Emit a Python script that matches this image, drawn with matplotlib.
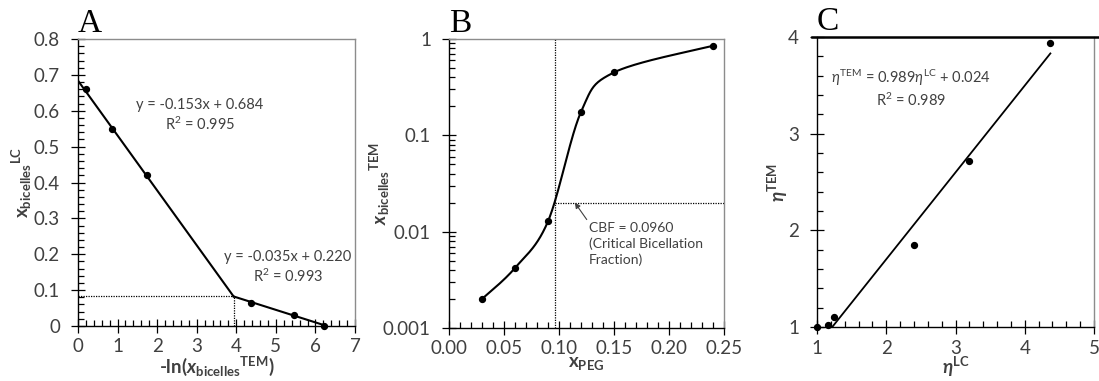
import numpy as np
import matplotlib
matplotlib.use("Agg")
import matplotlib.pyplot as plt
from matplotlib.ticker import MultipleLocator, LogLocator, NullFormatter, FixedLocator

plt.rcParams['font.family'] = ['Lato', 'DejaVu Sans']
plt.rcParams['mathtext.fontset'] = 'custom'
plt.rcParams['mathtext.rm'] = 'Lato'
plt.rcParams['mathtext.it'] = 'Lato:italic'
plt.rcParams['mathtext.bf'] = 'Lato:bold'
plt.rcParams['mathtext.bfit'] = 'Lato:bold:italic'

TXT = '#404040'
SPINE = '#8c8c8c'

# panel A: x_bicelles^LC vs -ln(x_bicelles^TEM)
a_x = [0.2, 0.85, 1.75, 4.38, 5.47, 6.22]
a_y = [0.66, 0.548, 0.42, 0.065, 0.03, 0.0]
a_fit1 = (-0.153, 0.684)
a_fit2 = (-0.035, 0.220)
a_fit2_end = 6.2

# panel B: x_bicelles^TEM vs x_PEG
b_x = [0.03, 0.06, 0.09, 0.12, 0.15, 0.24]
b_y = [0.002, 0.0042, 0.0128, 0.175, 0.45, 0.85]
b_cbf = 0.096
b_level = 0.02

# panel C: eta^TEM vs eta^LC
c_x = [1.0, 1.16, 1.25, 2.4, 3.19, 4.37]
c_y = [1.0, 1.02, 1.1, 1.85, 2.72, 3.94]
c_fit_x = [1.22, 4.37]
c_fit_y = [1.0, 3.83]


def style_axes(ax):
    for s in ax.spines.values():
        s.set_color(SPINE)
        s.set_linewidth(1.0)
    ax.spines['left'].set_color('black')
    ax.spines['bottom'].set_color('black')
    ax.tick_params(which='minor', direction='in', length=4, width=0.9,
                   colors='black')
    ax.tick_params(which='major', direction='inout', length=10, width=0.9,
                   colors='black', labelcolor=TXT, labelsize=13.5)
    ax.tick_params(axis='y', which='major', pad=8)
    ax.tick_params(axis='x', which='major', pad=4)


def set_labels(ax, xl, yl, xpos, ypos, size=13.5):
    # x label hangs from xpos, y label's right edge sits at ypos
    ax.set_xlabel(xl, fontsize=size, color=TXT)
    ax.set_ylabel(yl, fontsize=size, color=TXT)
    ax.xaxis.set_label_coords(0.5, xpos)
    ax.yaxis.set_label_coords(ypos, 0.5)


def catmull(px, py, n=40):
    # smooth line through the points, like a spreadsheet "smoothed line"
    P = np.column_stack([px, py])
    P = np.vstack([P[0], P, P[-1]])
    out = []
    for i in range(1, len(P) - 2):
        p0, p1, p2, p3 = P[i - 1], P[i], P[i + 1], P[i + 2]
        t = np.linspace(0, 1, n)[:, None]
        seg = 0.5 * ((2 * p1) + (-p0 + p2) * t + (2 * p0 - 5 * p1 + 4 * p2 - p3) * t ** 2
                     + (-p0 + 3 * p1 - 3 * p2 + p3) * t ** 3)
        out.append(seg)
    out = np.vstack(out)
    return out[:, 0], out[:, 1]


fig = plt.figure(figsize=(10.99, 3.81), dpi=100)
W, H = 1099, 381

def add_axes(l, t, r, b):
    return fig.add_axes([l / W, 1 - b / H, (r - l) / W, (b - t) / H])

def letter(ax, s):
    ax.text(0.0, 1.0, s, transform=ax.transAxes, fontsize=24, family='Liberation Serif',
            ha='left', va='bottom')

# ---------- A ----------
ax = add_axes(78, 39, 355, 326)
style_axes(ax)
ax.set_xlim(0, 7)
ax.set_ylim(0, 0.8)
ax.xaxis.set_major_locator(MultipleLocator(1))
ax.xaxis.set_minor_locator(MultipleLocator(0.2))
ax.yaxis.set_major_locator(MultipleLocator(0.1))
ax.yaxis.set_minor_locator(MultipleLocator(0.02))
ax.yaxis.set_major_formatter(matplotlib.ticker.FuncFormatter(lambda v, p: '0' if abs(v) < 1e-9 else '%g' % v))
xb = (a_fit2[1] - a_fit1[1]) / (a_fit1[0] - a_fit2[0])
yb = a_fit1[0] * xb + a_fit1[1]
xs1 = np.array([0, xb])
xs2 = np.array([xb, a_fit2_end])
ax.plot(xs1, a_fit1[0] * xs1 + a_fit1[1], color='black', lw=1.5)
ax.plot(xs2, a_fit2[0] * xs2 + a_fit2[1], color='black', lw=1.5)
ax.plot([0, xb], [yb, yb], color='black', lw=0.9, ls=(0, (1, 1)))
ax.plot([xb, xb], [0, yb], color='black', lw=0.9, ls=(0, (1, 1)))
ax.scatter(a_x, a_y, s=18, color='black', zorder=5, clip_on=False)
ax.text(3.08, 0.587, 'y = -0.153x + 0.684\nR$^2$ = 0.995', ha='center', va='center',
        fontsize=10.5, color=TXT, linespacing=1.3)
ax.text(5.31, 0.163, 'y = -0.035x + 0.220\nR$^2$ = 0.993', ha='center', va='center',
        fontsize=10.5, color=TXT, linespacing=1.3)
set_labels(ax, '-ln(' + r'$\mathbfit{x}_{\mathbf{bicelles}}{}^{\mathbf{TEM}}$' + ')',
           r'$\mathbf{x}_{\mathbf{bicelles}}{}^{\mathbf{LC}}$', -0.101, -0.159)
ax.xaxis.label.set_fontweight('bold')
letter(ax, 'A')

# ---------- B ----------
ax = add_axes(449, 39, 724, 328)
style_axes(ax)
ax.set_xlim(0, 0.25)
ax.set_yscale('log')
ax.set_ylim(0.001, 1)
ax.xaxis.set_major_locator(MultipleLocator(0.05))
ax.xaxis.set_minor_locator(MultipleLocator(0.01))
ax.xaxis.set_major_formatter(matplotlib.ticker.FormatStrFormatter('%.2f'))
ax.yaxis.set_major_locator(FixedLocator([0.001, 0.01, 0.1, 1]))
ax.yaxis.set_major_formatter(matplotlib.ticker.FuncFormatter(lambda v, p: '%g' % v))
ax.yaxis.set_minor_locator(LogLocator(base=10, subs=np.arange(2, 10)))
ax.yaxis.set_minor_formatter(NullFormatter())
ax.tick_params(which='minor', direction='in', length=4, width=0.9, colors='black')
sx, sy = catmull(np.array(b_x) / 0.25, (np.log10(b_y) + 3) / 3)
ax.plot(sx * 0.25, 10 ** (sy * 3 - 3), color='black', lw=1.5)
ax.scatter(b_x, b_y, s=18, color='black', zorder=5)
ax.plot([b_cbf, b_cbf], [0.001, 1], color='black', lw=0.9, ls=(0, (1, 1)))
ax.plot([b_cbf, 0.25], [b_level, b_level], color='black', lw=0.9, ls=(0, (1, 1)))
ax.annotate('CBF = 0.0960\n(Critical Bicellation\nFraction)', xy=(0.1144, b_level),
            xytext=(0.127, 0.0125), fontsize=10, color=TXT, ha='left', va='top',
            linespacing=1.3,
            arrowprops=dict(arrowstyle='-|>', color='#404040', lw=0.8,
                            mutation_scale=8, shrinkA=0, shrinkB=0,
                            relpos=(0.0, 1.0)))
set_labels(ax, r'$\mathbf{x}_{\mathbf{PEG}}$',
           r'$\mathbfit{x}_{\mathbf{bicelles}}{}^{\mathbf{TEM}}$', -0.093, -0.207)
letter(ax, 'B')

# ---------- C ----------
ax = add_axes(817, 37, 1094, 327)
style_axes(ax)
ax.set_xlim(1, 5)
ax.set_ylim(1, 4)
ax.xaxis.set_major_locator(MultipleLocator(1))
ax.xaxis.set_minor_locator(MultipleLocator(0.2))
ax.yaxis.set_major_locator(MultipleLocator(1))
ax.yaxis.set_minor_locator(MultipleLocator(0.2))
ax.spines['top'].set_visible(False)
fig.add_artist(plt.Line2D([812 / W, 1.0], [1 - 37 / H, 1 - 37 / H], color='black', lw=1.8))
ax.plot(c_fit_x, c_fit_y, color='black', lw=1.3)
ax.scatter(c_x, c_y, s=18, color='black', zorder=5, clip_on=False)
ax.text(2.36, 3.47, r'$\eta^{\rm TEM}$ = 0.989$\eta^{\rm LC}$ + 0.024' + '\nR$^2$ = 0.989',
        ha='center', va='center', fontsize=10.5, color=TXT, linespacing=1.3)
set_labels(ax, r'$\mathbfit{\eta}^{\mathbf{LC}}$', r'$\mathbfit{\eta}^{\mathbf{TEM}}$',
           -0.097, -0.097)
letter(ax, 'C')

fig.savefig('out.png', dpi=100)
